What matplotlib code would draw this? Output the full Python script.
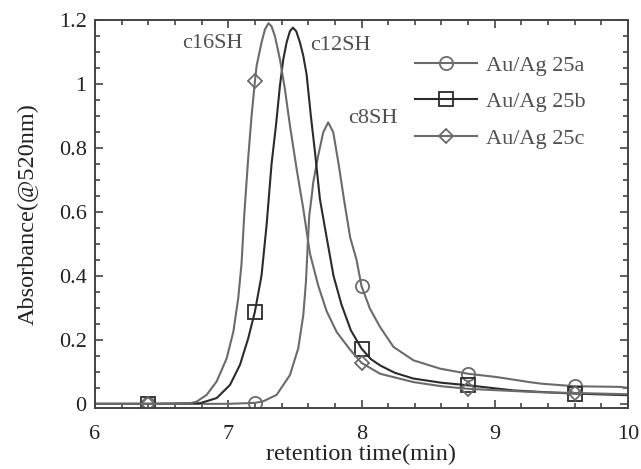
import matplotlib
matplotlib.use('Agg')
import matplotlib.pyplot as plt
import numpy as np
from matplotlib.ticker import MultipleLocator

plt.rcParams['font.family'] = ['Liberation Serif', 'DejaVu Serif']

# ---------------- data ----------------
# Au/Ag 25a  (c8SH)
x_25a = [6.0, 6.4, 7.0, 7.2, 7.263, 7.363, 7.463, 7.525, 7.563, 7.583, 7.595, 7.608,
         7.625, 7.638, 7.675, 7.713, 7.75, 7.788, 7.83, 7.87, 7.915, 7.963, 8.0,
         8.063, 8.138, 8.24, 8.39, 8.59, 8.8, 9.01, 9.26, 9.35, 9.6, 9.94, 10.0]
y_25a = [0.0, 0.0, 0.0, 0.003, 0.008, 0.028, 0.09, 0.173, 0.277, 0.381, 0.485, 0.589,
         0.645, 0.693, 0.776, 0.849, 0.88, 0.849, 0.745, 0.635, 0.52, 0.45, 0.368,
         0.298, 0.241, 0.178, 0.136, 0.11, 0.094, 0.084, 0.068, 0.063, 0.055, 0.053, 0.05]

# Au/Ag 25b  (c12SH)
x_25b = [6.0, 6.4, 6.788, 6.913, 7.013, 7.088, 7.15, 7.2, 7.25, 7.288, 7.325, 7.358,
         7.388, 7.413, 7.438, 7.463, 7.485, 7.51, 7.538, 7.563, 7.588, 7.62, 7.65,
         7.688, 7.73, 7.79, 7.85, 7.92, 8.0, 8.07, 8.14, 8.25, 8.39, 8.6, 8.8, 9.14,
         9.4, 9.6, 10.0]
y_25b = [0.0, 0.0, 0.002, 0.018, 0.059, 0.122, 0.205, 0.288, 0.402, 0.56, 0.75, 0.87,
         0.995, 1.077, 1.13, 1.165, 1.176, 1.165, 1.13, 1.088, 1.03, 0.90, 0.79,
         0.64, 0.54, 0.40, 0.31, 0.23, 0.173, 0.14, 0.12, 0.097, 0.079, 0.066, 0.058, 0.042,
         0.036, 0.032, 0.027]

# Au/Ag 25c  (c16SH)
x_25c = [6.0, 6.4, 6.6, 6.713, 6.763, 6.838, 6.913, 6.988, 7.038, 7.075, 7.10, 7.12,
         7.15, 7.175, 7.2, 7.213, 7.25, 7.275, 7.302, 7.325, 7.35, 7.388, 7.425, 7.463,
         7.513, 7.563, 7.613, 7.675, 7.738, 7.813, 7.913, 8.0, 8.14, 8.39, 8.6, 8.8,
         9.14, 9.35, 9.6, 10.0]
y_25c = [0.0, 0.0, 0.0, 0.002, 0.007, 0.028, 0.07, 0.142, 0.225, 0.33, 0.44, 0.59,
         0.77, 0.90, 1.008, 1.057, 1.13, 1.17, 1.19, 1.18, 1.15, 1.077, 0.984, 0.87,
         0.735, 0.61, 0.47, 0.37, 0.29, 0.225, 0.17, 0.128, 0.094, 0.068, 0.055, 0.047,
         0.04, 0.036, 0.034, 0.03]

marker_x = [6.4, 7.2, 8.0, 8.8, 9.6]

series_labels = ['Au/Ag 25a', 'Au/Ag 25b', 'Au/Ag 25c']
peak_labels = ['c8SH', 'c12SH', 'c16SH']
peak_label_pos = [(8.086, 0.891), (7.845, 1.119), (6.878, 1.125)]

x_ticks = [6, 7, 8, 9, 10]
y_ticks = [0, 0.2, 0.4, 0.6, 0.8, 1.0, 1.2]
y_tick_labels = ['0', '0.2', '0.4', '0.6', '0.8', '1', '1.2']
x_label = 'retention time(min)'
y_label = 'Absorbance(@520nm)'

# ---------------- figure ----------------
W, H = 641, 469
fig = plt.figure(figsize=(W / 100, H / 100), dpi=100)
ax = fig.add_axes([95 / W, 1 - 408 / H, (628 - 95) / W, (408 - 20) / H])

light = '#6b6b6b'
dark = '#2b2b2b'
styles = [
    dict(color=light, marker='o', ms=9.5),
    dict(color=dark, marker='s', ms=9.5),
    dict(color=light, marker='D', ms=7.5),
]
data = [(x_25a, y_25a), (x_25b, y_25b), (x_25c, y_25c)]

lines = []
for (xs, ys), st, lab in zip(data, styles, series_labels):
    xs = np.asarray(xs)
    idx = [int(np.argmin(np.abs(xs - m))) for m in marker_x]
    ln, = ax.plot(xs, ys, color=st['color'], lw=1.5, marker=st['marker'],
                  ms=st['ms'], mfc='none', mec=st['color'], mew=1.3,
                  markevery=idx, label=lab)
    lines.append(ln)

for txt, (px, py) in zip(peak_labels, peak_label_pos):
    ax.text(px, py, txt, fontsize=16, color='#505050', ha='center', va='center')

ax.set_xlim(6, 10)
ax.set_ylim(-0.013, 1.2)
ax.set_xticks(x_ticks)
ax.set_xticklabels([str(t) for t in x_ticks])
ax.set_yticks(y_ticks)
ax.set_yticklabels(y_tick_labels)
ax.xaxis.set_minor_locator(MultipleLocator(0.2))
ax.yaxis.set_minor_locator(MultipleLocator(0.05))
ax.tick_params(which='both', direction='in', top=True, right=True,
               color='#444444', width=1.2)
ax.tick_params(which='major', length=6, labelsize=16, labelcolor='#222222')
ax.tick_params(which='minor', length=3.5)
ax.tick_params(axis='x', which='major', pad=12)
ax.tick_params(axis='y', which='major', pad=6)
for sp in ax.spines.values():
    sp.set_color('#444444')
    sp.set_linewidth(1.4)

ax.set_xlabel(x_label, fontsize=17.5, color='#222222')
ax.set_ylabel(y_label, fontsize=17.5, color='#222222')
ax.xaxis.set_label_coords(0.5, -(444 - 408) / 388)
ax.yaxis.set_label_coords(-(95 - 39) / 533, 0.5)

leg = ax.legend(handles=lines, loc='upper left',
                bbox_to_anchor=(415 / W, 1 - 55 / H), bbox_transform=fig.transFigure,
                frameon=False, fontsize=16, numpoints=1, handlelength=2.8,
                handletextpad=0.4, labelspacing=0.72, borderpad=0, borderaxespad=0)
for t in leg.get_texts():
    t.set_color('#505050')

fig.savefig('out.png', dpi=100)
